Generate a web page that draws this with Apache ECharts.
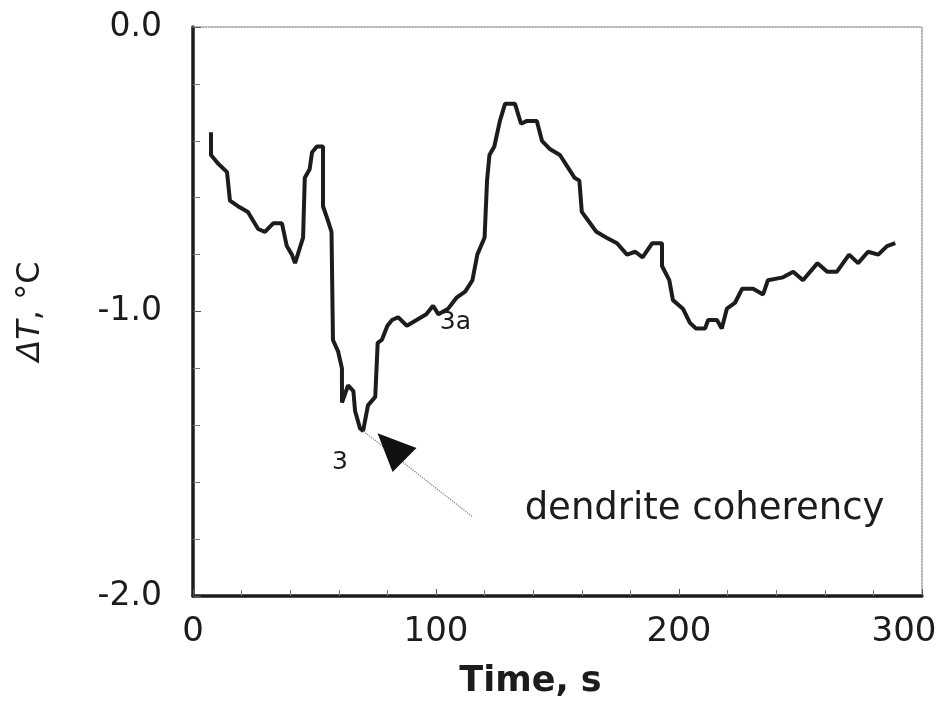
<!DOCTYPE html>
<html>
<head>
<meta charset="utf-8">
<script src="https://cdn.jsdelivr.net/npm/echarts@6/dist/echarts.min.js"></script>
<style>
  html, body { margin: 0; padding: 0; background: #fff; }
  #chart { width: 946px; height: 704px; }
</style>
</head>
<body>
<div id="chart"></div>
<script>
// time (s) and undercooling dT (°C)
const times = [7.4, 7.4, 10.3, 14, 15.2, 18.5, 22.6, 26.8, 29.6, 33, 36.6, 38.6, 40.7, 42, 45.3, 46, 48, 49, 51, 53.5,
  53.5, 55.5, 57, 57.6, 59.7, 61.3, 61.3, 63.8, 66, 66.7, 68.7, 70, 72, 75, 76, 77.7, 80, 81.9, 84.4, 88,
  92, 96, 98.8, 101, 105, 108.6, 112, 115, 117, 120, 121, 122, 124, 126.3, 128.4, 132.5, 135, 137.4, 141.5, 143.6,
  147, 151, 154, 157, 159, 160, 162.6, 166, 170, 174.5, 178.6, 182, 185, 189, 193, 193, 196, 197.5, 201.6, 204.5,
  207, 210.7, 212, 215.6, 217.6, 219.7, 223, 226, 230.5, 234.6, 236.6, 242.8, 247, 251, 257, 261, 265, 270, 273.7, 277.8,
  282, 285.6, 289];
const deltaT = [-0.37, -0.45, -0.48, -0.51, -0.61, -0.63, -0.65, -0.71, -0.72, -0.69, -0.69, -0.77, -0.80, -0.83, -0.74, -0.53, -0.50, -0.44, -0.42, -0.42,
  -0.63, -0.68, -0.72, -1.10, -1.14, -1.20, -1.32, -1.26, -1.28, -1.35, -1.41, -1.42, -1.33, -1.30, -1.11, -1.10, -1.05, -1.03, -1.02, -1.05,
  -1.03, -1.01, -0.98, -1.01, -0.99, -0.95, -0.93, -0.89, -0.80, -0.74, -0.54, -0.45, -0.42, -0.33, -0.27, -0.27, -0.34, -0.33, -0.33, -0.40,
  -0.43, -0.45, -0.49, -0.53, -0.54, -0.65, -0.68, -0.72, -0.74, -0.76, -0.80, -0.79, -0.81, -0.76, -0.76, -0.84, -0.89, -0.96, -0.99, -1.04,
  -1.06, -1.06, -1.03, -1.03, -1.06, -0.99, -0.97, -0.92, -0.92, -0.94, -0.89, -0.88, -0.86, -0.89, -0.83, -0.86, -0.86, -0.80, -0.83, -0.79,
  -0.80, -0.77, -0.76];

// annotations: [time, dT, text]
const pointNotes = [[60.5, -1.53, '3'], [108, -1.04, '3a']];
const leaderFrom = [114.8, -1.72];
const leaderTo = [70, -1.42];
const arrowTail = [88, -1.53];
const arrowHead = [81.5, -1.475];
const noteText = ['dendrite coherency', 210.5, -1.695];

const FONT = 'DejaVu Sans, Verdana, sans-serif';
const INK = '#1c1c1c';

let chart = echarts.init(document.getElementById('chart'));

let option = {
    backgroundColor: '#fff',
    animation: false,
    grid: { left: 193, right: 24, top: 27, bottom: 106 },
    xAxis: [
        {
            type: 'value',
            min: 0, max: 300, interval: 100,
            name: 'Time, s',
            nameLocation: 'middle',
            nameGap: 68,
            nameTextStyle: { fontFamily: FONT, fontSize: 35, fontWeight: 'bold', color: INK, padding: [0, 54, 0, 0] },
            axisLine: { onZero: false, lineStyle: { color: INK, width: 3.5 } },
            axisTick: { inside: true, length: 7, lineStyle: { color: '#555', width: 1 } },
            minorTick: { show: true, splitNumber: 5, length: 6, lineStyle: { color: '#777', width: 1 } },
            axisLabel: {
                fontFamily: FONT, fontSize: 34, color: INK, margin: 19,
                formatter: v => v === 300 ? '{r|300}' : String(v),
                rich: { r: { fontFamily: FONT, fontSize: 34, color: INK, padding: [0, 36, 0, 0] } }
            },
            splitLine: { show: false }
        },
        {
            type: 'value', position: 'top',
            min: 0, max: 300,
            axisLine: { onZero: false, lineStyle: { color: '#9a9a9a', width: 1.5, type: 'dotted' } },
            axisTick: { show: false }, axisLabel: { show: false }, splitLine: { show: false }
        }
    ],
    yAxis: [
        {
            type: 'value',
            min: -2, max: 0, interval: 1,
            name: '{i|ΔT}, °C',
            nameLocation: 'middle',
            nameRotate: 90,
            nameGap: 146,
            nameTextStyle: {
                fontFamily: FONT, fontSize: 32, color: INK,
                rich: { i: { fontFamily: FONT, fontSize: 32, fontStyle: 'italic', color: INK } }
            },
            axisLine: { onZero: false, lineStyle: { color: INK, width: 3.5 } },
            axisTick: { inside: true, length: 8, lineStyle: { color: '#555', width: 1 } },
            minorTick: { show: true, splitNumber: 5, length: 7, lineStyle: { color: '#777', width: 1 } },
            axisLabel: {
                fontFamily: FONT, fontSize: 33, color: INK, margin: 31,
                formatter: v => v.toFixed(1)
            },
            splitLine: { show: false }
        },
        {
            type: 'value', position: 'right',
            min: -2, max: 0,
            axisLine: { onZero: false, lineStyle: { color: '#9a9a9a', width: 1.5, type: 'dotted' } },
            axisTick: { show: false }, axisLabel: { show: false }, splitLine: { show: false }
        }
    ],
    series: [
        {
            type: 'line',
            data: times.map((t, i) => [t, deltaT[i]]),
            showSymbol: false,
            lineStyle: { color: INK, width: 4 },
            markPoint: {
                symbol: 'circle',
                symbolSize: 1,
                itemStyle: { color: 'rgba(0,0,0,0)' },
                label: { show: true, position: 'inside', fontFamily: FONT, color: INK },
                data: pointNotes.map(p => ({
                    coord: [p[0], p[1]],
                    label: { formatter: p[2], fontSize: 25 }
                })).concat([{
                    coord: [noteText[1], noteText[2]],
                    label: { formatter: noteText[0], fontSize: 37 }
                }])
            },
            markLine: {
                silent: true,
                symbol: ['none', 'none'],
                label: { show: false },
                lineStyle: { color: '#777', width: 1.2, type: 'dotted' },
                data: [
                    [{ coord: leaderFrom }, { coord: leaderTo }],
                    [
                        { coord: arrowTail, symbol: 'none', lineStyle: { color: '#111', width: 0.1, type: 'solid' } },
                        { coord: arrowHead, symbol: 'triangle', symbolSize: [34, 38] }
                    ]
                ]
            }
        }
    ]
};

chart.setOption(option);
</script>
</body>
</html>
